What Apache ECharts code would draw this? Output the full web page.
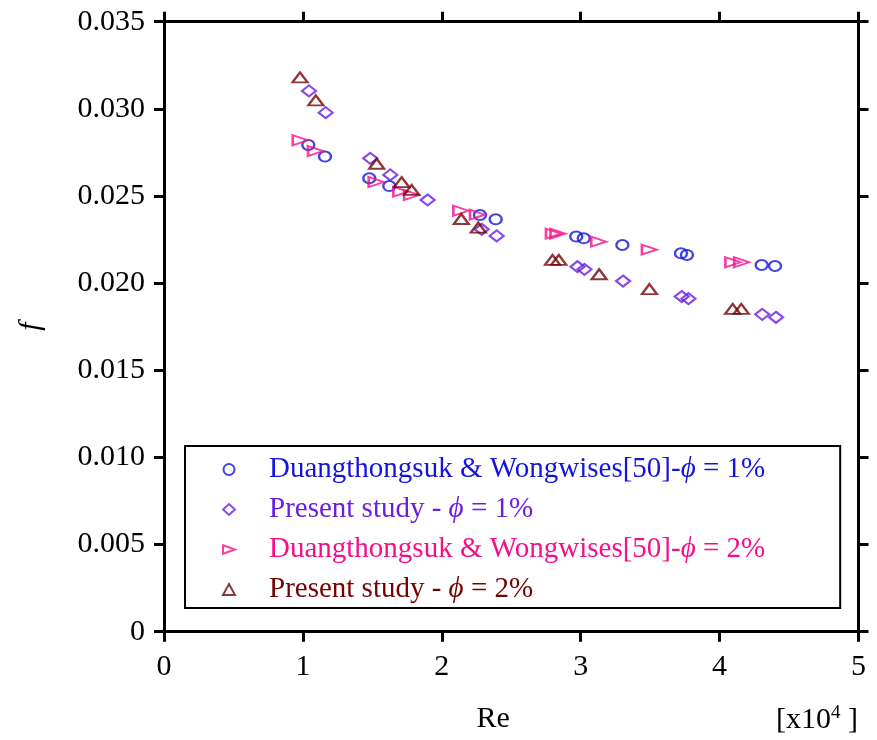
<!DOCTYPE html>
<html>
<head>
<meta charset="utf-8">
<script src="https://cdn.jsdelivr.net/npm/echarts@6/dist/echarts.min.js"></script>
<style>
  html, body { margin: 0; padding: 0; background: #ffffff; }
  #chart { width: 877px; height: 740px; }
</style>
</head>
<body>
<div id="chart"></div>
<script>
// Reynolds number (x10^4) and friction factor f for each data set
const reDuang1 = [1.039, 1.159, 1.478, 1.622, 2.275, 2.388, 2.968, 3.022, 3.300, 3.722, 3.765, 4.303, 4.399];
const fDuang1  = [0.02793, 0.02726, 0.02602, 0.02557, 0.02391, 0.02366, 0.02267, 0.02257, 0.02219, 0.02171, 0.02162, 0.02104, 0.02098];

const rePresent1 = [1.044, 1.164, 1.485, 1.629, 1.898, 2.287, 2.395, 2.977, 3.027, 3.305, 3.727, 3.776, 4.307, 4.406];
const fPresent1  = [0.03103, 0.02978, 0.02716, 0.02621, 0.02477, 0.02309, 0.02271, 0.02094, 0.02079, 0.02012, 0.01923, 0.01911, 0.01821, 0.01804];

const reDuang2 = [0.981, 1.091, 1.528, 1.705, 1.783, 2.137, 2.257, 2.804, 2.837, 3.130, 3.495, 4.096, 4.159];
const fDuang2  = [0.02820, 0.02758, 0.02580, 0.02525, 0.02506, 0.02415, 0.02393, 0.02284, 0.02284, 0.02238, 0.02192, 0.02120, 0.02120];

const rePresent2 = [0.979, 1.093, 1.531, 1.711, 1.783, 2.140, 2.263, 2.797, 2.842, 3.133, 3.495, 4.094, 4.156];
const fPresent2  = [0.03180, 0.03049, 0.02685, 0.02579, 0.02535, 0.02368, 0.02319, 0.02133, 0.02133, 0.02051, 0.01966, 0.01852, 0.01852];

// Legend wording, split around the italic phi
const legendPrefix = ['Duangthongsuk & Wongwises[50]-', 'Present study - ', 'Duangthongsuk & Wongwises[50]-', 'Present study - '];
const legendSuffix = [' = 1%', ' = 1%', ' = 2%', ' = 2%'];
const seriesNames = ['Duang 1', 'Present 1', 'Duang 2', 'Present 2'];

// Axis ticks
const xTicks = [0, 1, 2, 3, 4, 5];
const yTicks = [0, 0.005, 0.010, 0.015, 0.020, 0.025, 0.030, 0.035];

const colors = ['#1414dc', '#6c1ee0', '#f5108a', '#740404'];
const symbols = ['circle', 'diamond', 'triangle', 'triangle'];
const symbolSizes = [[12, 10], [14, 11], [10, 15], [15, 10]];
const symbolRotates = [0, 0, -90, 0];
// legend icons: the third one is a right-pointing triangle
const legendIcons = ['circle', 'diamond', 'path://M0,0L14,5L0,10Z', 'triangle'];

const serif = '"Liberation Serif", "Times New Roman", serif';

const zip = (xs, ys) => xs.map((x, i) => [x, ys[i]]);
const seriesData = [
  zip(reDuang1, fDuang1),
  zip(rePresent1, fPresent1),
  zip(reDuang2, fDuang2),
  zip(rePresent2, fPresent2)
];

const rich = {};
colors.forEach((c, k) => {
  rich['n' + k] = { color: c, fontFamily: serif, fontSize: 29 };
  rich['i' + k] = { color: c, fontFamily: serif, fontSize: 29, fontStyle: 'italic' };
});

const axisLineStyle = { color: '#000', width: 3 };
const baseAxis = (extra) => Object.assign({
  type: 'value',
  axisLine: { show: true, onZero: false, lineStyle: axisLineStyle },
  axisTick: { show: true, inside: false, length: 10, lineStyle: { color: '#000', width: 3 } },
  splitLine: { show: false }
}, extra);

const chart = echarts.init(document.getElementById('chart'), null, { renderer: 'canvas' });

chart.setOption({
  backgroundColor: '#ffffff',
  animation: false,
  grid: { left: 164, right: 18.5, top: 21.7, bottom: 108.3, containLabel: false },
  xAxis: [
    baseAxis({
      position: 'bottom', min: xTicks[0], max: xTicks[xTicks.length - 1], interval: 1,
      axisLabel: { color: '#000', fontFamily: serif, fontSize: 30, margin: 20 },
      name: 'Re', nameLocation: 'middle', nameGap: 72,
      nameTextStyle: { color: '#000', fontFamily: serif, fontSize: 30, padding: [0, 36, 0, 0] }
    }),
    baseAxis({
      position: 'top', min: xTicks[0], max: xTicks[xTicks.length - 1], interval: 1,
      axisLabel: { show: false }
    })
  ],
  yAxis: [
    baseAxis({
      position: 'left', min: yTicks[0], max: yTicks[yTicks.length - 1], interval: 0.005,
      axisLabel: { color: '#000', fontFamily: serif, fontSize: 30, margin: 19,
        formatter: v => (v === 0 ? '0' : v.toFixed(3)) },
      name: 'f', nameLocation: 'middle', nameGap: 118, nameRotate: 90,
      nameTextStyle: { color: '#000', fontFamily: serif, fontSize: 30, fontStyle: 'italic' }
    }),
    baseAxis({
      position: 'right', min: yTicks[0], max: yTicks[yTicks.length - 1], interval: 0.005,
      axisLabel: { show: false }
    })
  ],
  legend: {
    orient: 'vertical',
    left: 185, top: 446,
    padding: [9, 75, 4, 37],
    borderColor: '#000', borderWidth: 2,
    itemWidth: 12, itemHeight: 11, itemGap: 11,
    textStyle: { fontFamily: serif, fontSize: 29, padding: [0, 0, 0, 29], rich: rich },
    formatter: name => {
      const k = seriesNames.indexOf(name);
      return '{n' + k + '|' + legendPrefix[k] + '}{i' + k + '|ϕ}{n' + k + '|' + legendSuffix[k] + '}';
    },
    data: seriesNames.map((n, k) => ({
      name: n,
      icon: legendIcons[k],
      itemStyle: { color: 'rgba(255,255,255,0)', borderColor: colors[k], borderWidth: 2 },
      textStyle: { color: colors[k] }
    }))
  },
  graphic: [{
    type: 'text',
    left: 776, top: 704,
    style: {
      text: '[x10{s|4} ]',
      fill: '#000',
      font: '30px ' + serif,
      rich: { s: { fontFamily: serif, fontSize: 19, padding: [0, 0, 14, 0], fill: '#000' } }
    }
  }],
  series: seriesData.map((d, k) => ({
    name: seriesNames[k],
    type: 'scatter',
    data: d,
    symbol: symbols[k],
    symbolSize: symbolSizes[k],
    symbolRotate: symbolRotates[k],
    itemStyle: { color: 'rgba(255,255,255,0)', borderColor: colors[k], borderWidth: 2.2 },
    emphasis: { disabled: true },
    z: 2 + k
  }))
});
</script>
</body>
</html>
